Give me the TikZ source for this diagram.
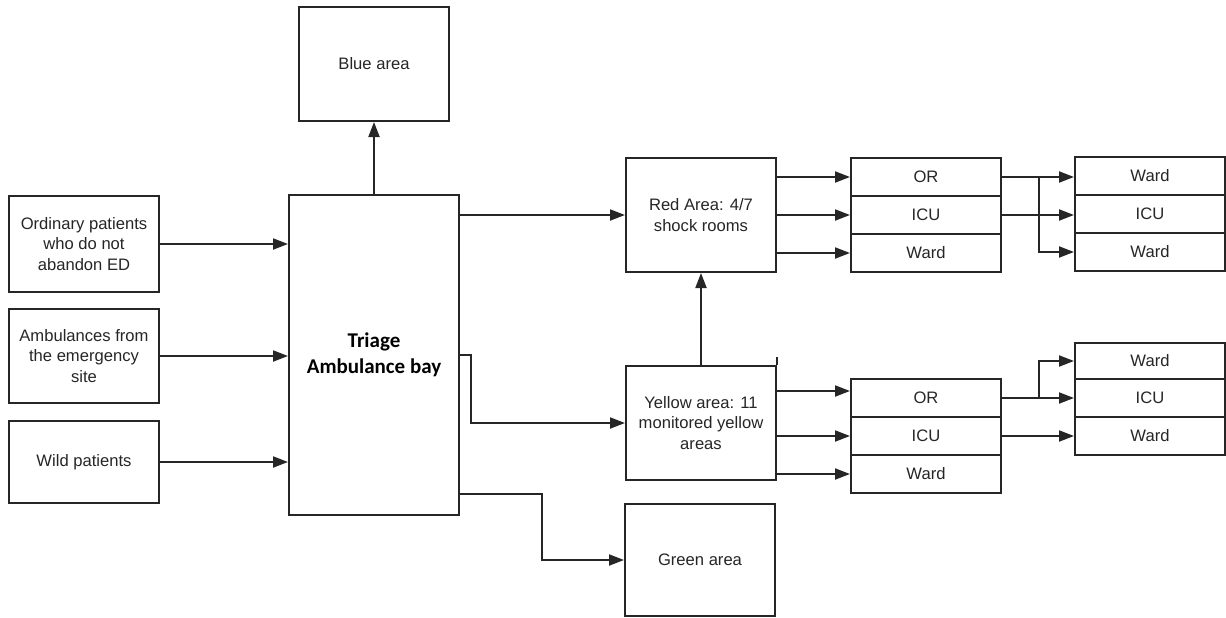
\documentclass[tikz,border=0pt]{standalone}
\usepackage{fontspec}
\setmainfont{Liberation Sans}
\newfontfamily\triagefont{Carlito}
\usetikzlibrary{arrows.meta}
\begin{document}
\begin{tikzpicture}[x=1pt,y=-1pt,
  box/.style={draw=black!85, line width=2pt, fill=white, inner sep=0pt, align=center,
    text=black!85, font=\fontsize{16.6}{20.5}\selectfont},
  cell/.style={box, minimum width=150pt},
  arr/.style={draw=black!85, line width=2pt, -{Triangle[length=15pt,width=11pt]}},
  ln/.style={draw=black!85, line width=2pt}]
\useasboundingbox (0,0) rectangle (1226,618);
% main boxes
\node[box, minimum width=150pt, minimum height=114pt] (blue) at (374,64) {Blue area};
\node[box, minimum width=150pt, minimum height=96pt] (ord) at (84,244) {Ordinary patients\\who do not\\abandon ED};
\node[box, minimum width=150pt, minimum height=94pt] (amb) at (84,356) {Ambulances from\\the emergency\\site};
\node[box, minimum width=150pt, minimum height=82pt] (wild) at (84,462) {Wild patients};
\node[box, minimum width=170pt, minimum height=320pt, text=black,
  font=\triagefont\bfseries\fontsize{21}{26}\selectfont] (triage) at (374,355) {Triage\\Ambulance bay};
\node[box, minimum width=150pt, minimum height=114pt] (red) at (701,215) {Red Area: 4/7\\shock rooms};
\node[box, minimum width=150pt, minimum height=114pt] (yellow) at (701,423) {Yellow area: 11\\monitored yellow\\areas};
\node[box, minimum width=150pt, minimum height=112pt] (green) at (700,560) {Green area};
% red column 1
\node[cell, minimum height=38pt] (or1) at (926,177) {OR};
\node[cell, minimum height=38pt] (icu1) at (926,215) {ICU};
\node[cell, minimum height=38pt] (ward1) at (926,253) {Ward};
% red column 2
\node[cell, minimum height=38pt] (w3a) at (1150,176) {Ward};
\node[cell, minimum height=38pt] (icu3) at (1150,214) {ICU};
\node[cell, minimum height=38pt] (w3b) at (1150,252) {Ward};
% yellow column 1
\node[cell, minimum height=38pt] (or2) at (926,398) {OR};
\node[cell, minimum height=38pt] (icu2) at (926,436) {ICU};
\node[cell, minimum height=38pt] (ward2) at (926,474) {Ward};
% yellow column 2
\node[cell, minimum height=36pt] (w4a) at (1150,361) {Ward};
\node[cell, minimum height=38pt] (icu4) at (1150,398) {ICU};
\node[cell, minimum height=38pt] (w4b) at (1150,436) {Ward};
% inputs
\draw[arr] (ord.east) -- (ord.east -| triage.west);
\draw[arr] (amb.east) -- (amb.east -| triage.west);
\draw[arr] (wild.east) -- (wild.east -| triage.west);
% triage outputs
\draw[arr] (triage.north) -- (blue.south);
\draw[arr] (triage.east |- red.west) -- (red.west);
\draw[arr] (triage.east) -- ++(11,0) |- (yellow.west);
\draw[arr] ([yshift=22pt]triage.south east) -- ++(82,0) |- (green.west);
\draw[arr] (yellow.north) -- (red.south);
\draw[ln] (yellow.north east) -- ++(0,-8);
% red outputs
\draw[arr] (red.east |- or1.west) -- (or1.west);
\draw[arr] (red.east |- icu1.west) -- (icu1.west);
\draw[arr] (red.east |- ward1.west) -- (ward1.west);
% yellow outputs
\coordinate (y1) at ([yshift=7pt]or2.west);
\draw[arr] (y1 -| yellow.east) -- (y1);
\draw[arr] (yellow.east |- icu2.west) -- (icu2.west);
\draw[arr] (yellow.east |- ward2.west) -- (ward2.west);
% red column links
\draw[arr] (or1.east) -- (or1.east -| w3a.west);
\draw[arr] (icu1.east) -- (icu1.east -| icu3.west);
\draw[arr] (or1.east) -- ++(37,0) |- (w3b.west);
% yellow column links
\draw[arr] (or2.east) -- (or2.east -| icu4.west);
\draw[arr] (or2.east) -- ++(37,0) |- (w4a.west);
\draw[arr] (icu2.east) -- (icu2.east -| w4b.west);
\end{tikzpicture}
\end{document}
